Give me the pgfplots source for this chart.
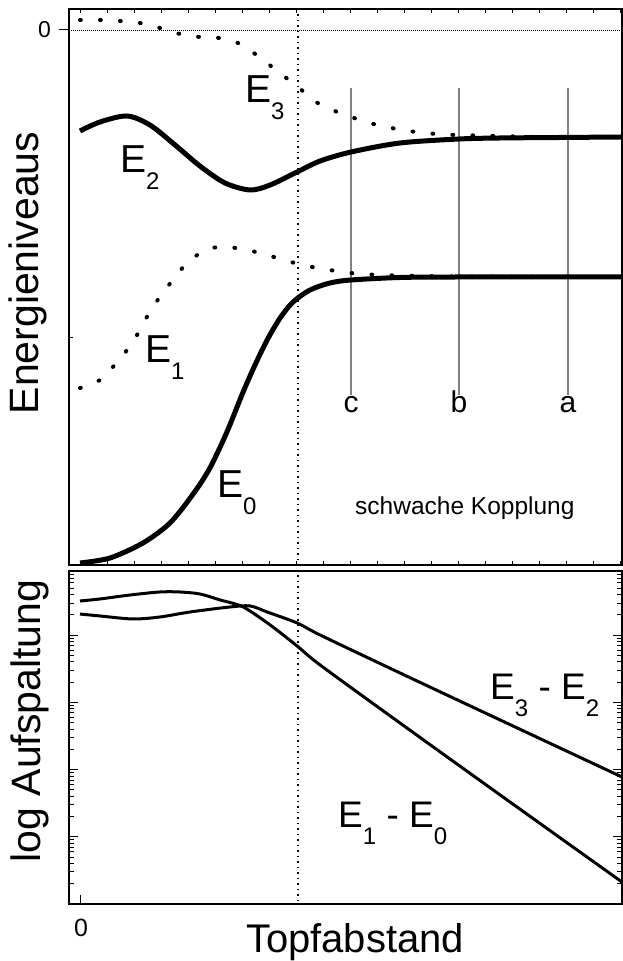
\documentclass[border=0pt]{standalone}
\usepackage{fontspec}
\setmainfont{Liberation Sans}
\usepackage{pgfplots}
\pgfplotsset{compat=1.18}
\newcommand{\sub}[1]{\raisebox{-17pt}{\fontsize{24}{24}\selectfont #1}}
\begin{document}
\begin{tikzpicture}[x=1pt,y=1pt]
\path[use as bounding box] (0,0) rectangle (623,961);
% ---------------- top panel ----------------
\begin{axis}[at={(68.5pt,396pt)}, anchor=south west, scale only axis,
  width=553.5pt, height=556pt,
  xmin=-0.426, xmax=20.07, ymin=-5.35, ymax=0.21,
  axis line style={line width=2pt},
  xtick={0,...,20}, xticklabels={}, xtick pos=both, xtick align=inside,
  ytick={-3.08}, yticklabels={}, ytick pos=left, ytick align=inside,
  major tick length=4pt,
  extra y ticks={0}, extra y tick labels={},
  extra y tick style={ytick align=outside, major tick length=10pt},
  tick style={line width=1pt, black},
  clip=false]
\addplot[line width=0.8pt, dash pattern=on 1pt off 1pt] coordinates {(-0.426,0) (20.07,0)};
% c b a reference lines
\addplot[gray, line width=1.5pt] coordinates {(10.04,-0.58) (10.04,-3.65)};
\addplot[gray, line width=1.5pt] coordinates {(14.04,-0.58) (14.04,-3.65)};
\addplot[gray, line width=1.5pt] coordinates {(18.07,-0.58) (18.07,-3.65)};
% E3 (dotted)
\addplot[smooth, line width=4pt, line cap=round, dash pattern=on 0.8pt off 19.2pt] coordinates {
 (0,0.10) (0.74,0.10) (1.48,0.09) (2.22,0.07) (2.96,0.02) (3.70,-0.04) (4.44,-0.07)
 (5.15,-0.08) (5.85,-0.13) (6.59,-0.26) (7.30,-0.41) (8.07,-0.57) (8.74,-0.72)
 (9.52,-0.82) (10.26,-0.89) (11.0,-0.95) (11.74,-0.99) (12.44,-1.02) (13.19,-1.04)
 (13.93,-1.05) (14.67,-1.055) (15.37,-1.06) (16.11,-1.065) (16.85,-1.07) (18.0,-1.07) (20.07,-1.07)};
% E2 (solid)
\addplot[smooth, line width=5pt] coordinates {
 (0,-1.01) (0.74,-0.92) (1.74,-0.86) (2.59,-0.95) (3.52,-1.15) (4.44,-1.36)
 (5.37,-1.53) (6.30,-1.60) (7.04,-1.55) (8.04,-1.42) (8.89,-1.31) (10.04,-1.22)
 (11.85,-1.13) (14.04,-1.09) (15.56,-1.08) (17.78,-1.075) (20.07,-1.07)};
% E1 (dotted)
\addplot[smooth, line width=4pt, line cap=round, dash pattern=on 0.8pt off 19.2pt] coordinates {
 (0,-3.58) (0.74,-3.50) (1.41,-3.31) (1.96,-3.12) (2.41,-2.90) (2.85,-2.71)
 (3.41,-2.51) (4.0,-2.32) (4.74,-2.19) (5.44,-2.17) (6.19,-2.20) (6.93,-2.25)
 (7.67,-2.31) (8.41,-2.36) (9.26,-2.40) (10.0,-2.43) (11.11,-2.45) (12.59,-2.46)
 (14.04,-2.465) (20.07,-2.47)};
% E0 (solid)
\addplot[smooth, line width=5pt] coordinates {
 (0,-5.33) (1.11,-5.28) (2.33,-5.13) (3.33,-4.93) (4.19,-4.64) (4.81,-4.38)
 (5.44,-4.02) (6.04,-3.62) (6.48,-3.35) (6.93,-3.10) (7.41,-2.88) (7.89,-2.72)
 (8.52,-2.60) (9.26,-2.53) (10.04,-2.50) (11.85,-2.475) (14.04,-2.47) (20.07,-2.47)};
\end{axis}
% ---------------- bottom panel ----------------
\begin{axis}[at={(68.5pt,57pt)}, anchor=south west, scale only axis,
  width=553.5pt, height=333pt,
  xmin=-0.426, xmax=20.07, ymode=log, ymin=1, ymax=90200,
  axis line style={line width=2pt},
  xtick={0}, xticklabels={}, xtick pos=bottom, xtick align=inside,
  ytick pos=both, ytick align=inside, yticklabels={},
  major tick length=9pt, minor tick length=5pt,
  tick style={line width=1pt, black}]
% E1 - E0
\addplot[smooth, line width=3pt] coordinates {
 (0,32280) (0.74,34590) (1.85,39630) (2.96,43950) (3.70,43950) (4.44,41020)
 (5.19,33420) (6.04,26300) (7.04,14190) (8.04,6904) (8.89,3606)
 (11.85,493.2) (15.56,41.88) (20.07,2.123)};
% E3 - E2
\addplot[smooth, line width=3pt] coordinates {
 (0,20650) (0.74,19320) (1.96,17420) (2.96,18660) (4.07,22130) (5.56,26300)
 (6.30,27230) (6.93,22130) (8.04,15200) (8.89,10070) (11.85,2740)
 (15.56,547) (20.07,77.62)};
\end{axis}
% ---------------- labels (pixel coordinates, y downward) ----------------
\begin{scope}[shift={(0,961)}, y=-1pt]
\draw[line width=1.2pt, dash pattern=on 1.5pt off 4pt] (298,9) -- (298,904);
\node[anchor=east, inner sep=0, font=\fontsize{23}{23}\selectfont] at (51,30) {0};
\node[anchor=base, inner sep=0, font=\fontsize{25}{25}\selectfont] at (81,937) {0};
\node[anchor=base west, inner sep=0, font=\fontsize{39}{39}\selectfont] at (245,103) {E\sub{3}};
\node[anchor=base west, inner sep=0, font=\fontsize{39}{39}\selectfont] at (120,173) {E\sub{2}};
\node[anchor=base west, inner sep=0, font=\fontsize{39}{39}\selectfont] at (145,363) {E\sub{1}};
\node[anchor=base west, inner sep=0, font=\fontsize{39}{39}\selectfont] at (217,498) {E\sub{0}};
\node[anchor=base, inner sep=0, font=\fontsize{30}{30}\selectfont] at (351,413) {c};
\node[anchor=base, inner sep=0, font=\fontsize{30}{30}\selectfont] at (459,413) {b};
\node[anchor=base, inner sep=0, font=\fontsize{30}{30}\selectfont] at (568,413) {a};
\node[anchor=base west, inner sep=0, font=\fontsize{24.5}{24.5}\selectfont] at (355,515) {schwache Kopplung};
\node[anchor=base west, inner sep=0, font=\fontsize{37}{37}\selectfont] at (490,700) {E\sub{3} - E\sub{2}};
\node[anchor=base west, inner sep=0, font=\fontsize{37}{37}\selectfont] at (338,828) {E\sub{1} - E\sub{0}};
\node[rotate=90, inner sep=0, font=\fontsize{41}{41}\selectfont] at (28,273) {Energieniveaus};
\node[rotate=90, inner sep=0, font=\fontsize{41}{41}\selectfont] at (30,721) {log Aufspaltung};
\node[anchor=base, inner sep=0, font=\fontsize{40}{40}\selectfont] at (355,952) {Topfabstand};
\end{scope}
\end{tikzpicture}
\end{document}
